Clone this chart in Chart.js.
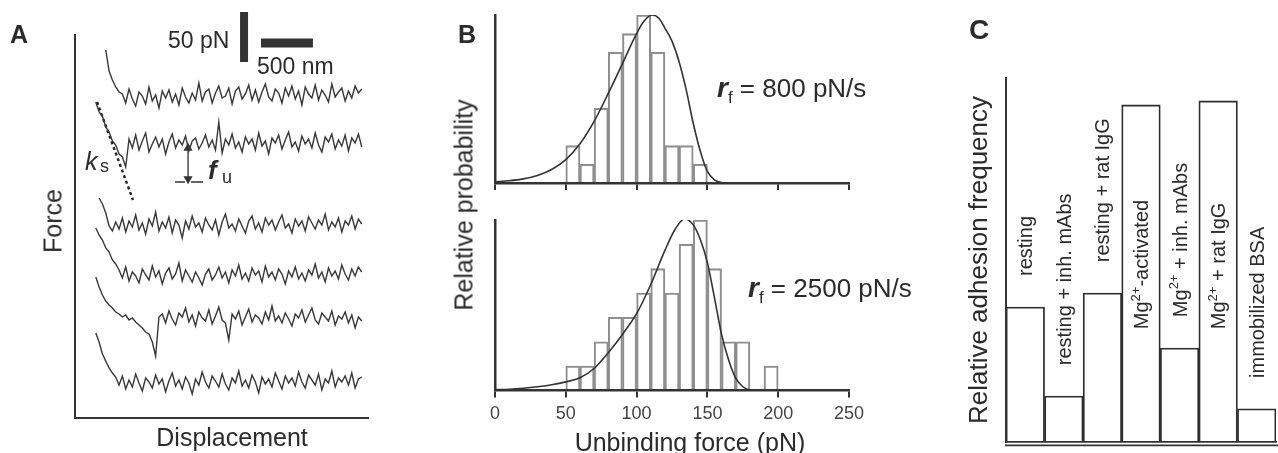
<!DOCTYPE html>
<html>
<head>
<meta charset="utf-8">
<script src="https://cdn.jsdelivr.net/npm/chart.js@4.4.0/dist/chart.umd.min.js"></script>
<style>
body { margin: 0; background: #fff; }
#fig { position: relative; width: 1278px; height: 453px; overflow: hidden; font-family: "Liberation Sans", Arial, Helvetica, sans-serif; color: #2b2b2b; }
canvas { position: absolute; }
.t { position: absolute; line-height: 1; white-space: nowrap; }
.rot { position: absolute; line-height: 1; white-space: nowrap; transform: translate(-50%, -50%) rotate(-90deg); }
</style>
</head>
<body>
<div id="fig">
  <canvas id="panel-a" width="380" height="453" style="left:0;top:0"></canvas>
  <canvas id="panel-b1" width="440" height="200" style="left:440px;top:0"></canvas>
  <canvas id="panel-b2" width="440" height="253" style="left:440px;top:200px"></canvas>
  <canvas id="panel-c" width="318" height="453" style="left:960px;top:0"></canvas>

  <!-- panel A text -->
  <div class="t" style="left:10px;top:22px;font-size:25px;font-weight:bold">A</div>
  <div class="t" style="left:168px;top:29px;font-size:23px">50 pN</div>
  <div class="t" style="left:257px;top:55px;font-size:23px">500 nm</div>
  <div class="t" style="left:85px;top:149px;font-size:25px;font-style:italic">k</div>
  <div class="t" style="left:100px;top:157px;font-size:18px">s</div>
  <div class="t" style="left:208px;top:157px;font-size:26px;font-style:italic;font-weight:bold">f</div>
  <div class="t" style="left:222px;top:168px;font-size:18px">u</div>
  <div class="rot" style="left:53px;top:221px;font-size:25px">Force</div>
  <div class="t" style="left:232px;top:425px;font-size:25px;transform:translateX(-50%)">Displacement</div>

  <!-- panel B text -->
  <div class="t" style="left:458px;top:22px;font-size:25px;font-weight:bold">B</div>
  <div class="rot" style="left:464px;top:205px;font-size:25px">Relative probability</div>
  <div class="t" style="left:717px;top:74px;font-size:26px"><b><i style="font-size:28px">r</i></b><span style="font-size:17px;position:relative;top:6px">f</span> = 800 pN/s</div>
  <div class="t" style="left:748px;top:274px;font-size:26px"><b><i style="font-size:28px">r</i></b><span style="font-size:17px;position:relative;top:6px">f</span> = 2500 pN/s</div>
  <div class="t" style="left:690px;top:430px;font-size:25px;transform:translateX(-50%)">Unbinding force (pN)</div>

  <!-- panel C text -->
  <div class="t" style="left:969px;top:16px;font-size:28px;font-weight:bold">C</div>
  <div class="rot" style="left:978px;top:260px;font-size:26px">Relative adhesion frequency</div>
</div>

<script>
// ---- panel A: force traces (pN), one sample every 32 nm starting at 200 nm ----
const traceStartNm = 200
const traceStepNm = 32
const trace1 = [null,null,null,368,347,338,331,326,
  324,315,329,319,312,326,322,314,331,317,323,310,327,320,328,316,324,313,330,321,315,325,318,
  335,317,326,329,315,325,332,320,322,330,314,327,331,319,324,333,318,328,316,326,
  334,321,317,329,325,315,330,322,332,319,327,313,331,324,320,333,318,328,323,316,
  334,321,326,330,317,327,320,332,325,329]
const trace2 = [316,306,302,291,286,277,273,264,261,251,279,
  270,283,268,277,285,266,274,281,271,279,264,276,284,270,278,273,282,267,277,280,
  269,275,283,271,278,268,296,265,279,
  273,284,270,276,266,281,274,279,268,285,272,277,264,280,275,283,269,278,286,271,
  276,267,282,274,279,270,285,273,266,281,276,284,269,278,272,283,267,280,275,284,271]
const trace3 = [null,220,214,205,192,187,196,
  189,200,186,197,191,203,188,195,184,199,192,206,187,196,190,201,185,198,193,180,
  197,189,202,191,195,186,200,193,188,198,183,196,204,190,194,187,199,192,185,197,
  202,189,195,186,200,193,198,188,196,203,190,194,185,199,192,197,187,201,195,189,
  198,193,204,188,196,191,200,186,197,193,202,189,199,194]
const trace4 = [190,183,178,170,166,158,154,148,
  140,151,137,146,142,135,149,143,138,152,141,147,134,145,150,139,144,155,137,148,
  142,136,146,140,133,144,149,138,143,151,140,146,135,148,142,153,139,145,137,150,
  143,147,136,152,141,146,138,149,144,134,147,141,151,139,145,137,148,143,154,140,
  146,136,150,142,147,139,153,144,138,149,142,151,146]
const trace5 = [141,131,123,117,113,110,106,104,101,103,98,100,96,93,90,86,84,76,62,101,
  104,95,107,99,93,105,101,110,96,103,92,106,100,97,108,94,102,111,98,95,
  78,104,99,107,93,101,109,96,103,100,94,106,98,112,97,102,95,105,99,92,
  104,100,108,96,103,110,98,94,105,101,97,107,93,102,99,106,95,103,90,101,97]
const trace6 = [85,76,64,57,50,45,41,
  33,42,29,38,31,44,35,27,40,36,30,43,34,39,26,37,45,32,38,29,
  41,35,24,39,33,46,36,30,42,37,31,44,34,28,40,35,47,32,38,30,
  43,36,25,41,34,39,31,45,37,29,42,35,40,32,46,36,30,43,38,33,
  44,28,39,35,47,31,40,36,42,33,45,30,39,41]
const ksLineNm = [212, 558]
const ksLinePn = [316, 218]
const scaleForcePn = 50
const scaleDispNm = 500

// ---- panel B: unbinding force histograms (10 pN bins) and fits ----
const binCenters800 = [55, 65, 75, 85, 95, 105, 115, 125, 135, 145]
const counts800 = [2, 1, 4, 7, 8, 9, 7, 2, 2, 1]
const fitForce800 = [0, 10, 20, 30, 40, 50, 60, 70, 80, 90, 100, 105, 111, 116, 120, 125, 130, 135, 140, 145, 150, 155, 160, 165, 250]
const fitProb800 = [0.06, 0.12, 0.22, 0.4, 0.72, 1.25, 2.1, 3.3, 4.8, 6.4, 8.0, 8.65, 9.0, 8.8, 8.3, 7.6, 6.5, 5.0, 3.2, 1.7, 0.62, 0.17, 0.03, 0, 0]

const binCenters2500 = [55, 65, 75, 85, 95, 105, 115, 125, 135, 145, 155, 165, 175, 185, 195]
const counts2500 = [1, 1, 2, 3, 3, 4, 5, 4, 6, 7, 5, 2, 2, 0, 1]
const fitForce2500 = [0, 10, 20, 30, 40, 50, 60, 70, 80, 90, 100, 110, 120, 127, 134, 140, 145, 150, 155, 160, 165, 170, 175, 180, 185, 250]
const fitProb2500 = [0.03, 0.05, 0.09, 0.15, 0.23, 0.35, 0.52, 0.9, 1.55, 2.3, 3.15, 4.35, 5.75, 6.6, 7.05, 6.8, 6.2, 5.25, 3.8, 2.3, 1.25, 0.5, 0.15, 0.02, 0, 0]
const forceTicks = [0, 50, 100, 150, 200, 250]

// ---- panel C: relative adhesion frequency ----
const conditions = ['resting', 'resting + inh. mAbs', 'resting + rat IgG', 'Mg2+-activated', 'Mg2+ + inh. mAbs', 'Mg2+ + rat IgG', 'immobilized BSA']
const adhesion = [0.371, 0.126, 0.409, 0.926, 0.258, 0.937, 0.091]

const FONT = '"Liberation Sans", Arial, Helvetica, sans-serif'
const INK = '#2b2b2b'
Chart.defaults.font.family = FONT
Chart.defaults.color = INK

function xy(xs, ys){
    return xs.map((x, i) => ({x: x, y: ys[i]}))
}

function hiddenAxis(min, max){
    // axis line only, no ticks or labels
    return {
        type: 'linear', min: min, max: max,
        ticks: {display: false},
        grid: {display: false, drawTicks: false},
        border: {display: true, color: '#333', width: 2, z: 1}
    }
}

// ================= panel A =================
function renderTraces(){
    let traces = [trace1, trace2, trace3, trace4, trace5, trace6]
    let datasets = traces.map(t => ({
        data: t.map((v, i) => ({x: traceStartNm + i * traceStepNm, y: v})),
        borderColor: '#383838',
        borderWidth: 1.4,
        pointRadius: 0,
        spanGaps: false
    }))

    // k_s dashed slope
    datasets.push({
        data: xy(ksLineNm, ksLinePn),
        borderColor: '#222', borderWidth: 2.4, borderDash: [3, 3], pointRadius: 0
    })

    // f_u double arrow and the two short ticks under it
    datasets.push({
        data: [{x: 1088, y: 270}, {x: 1088, y: 239}],
        borderColor: '#333', borderWidth: 1.3,
        pointStyle: 'triangle', pointRadius: 4,
        pointBackgroundColor: '#333', pointBorderColor: '#333',
        rotation: ctx => ctx.dataIndex ? 180 : 0
    })
    datasets.push({
        data: [{x: 962, y: 236}, {x: 1059, y: 236}, {x: 1088, y: null}, {x: 1116, y: 236}, {x: 1232, y: 236}],
        borderColor: '#333', borderWidth: 1.6, pointRadius: 0, spanGaps: false
    })

    // scale bars (drawn above the plot area)
    datasets.push({
        data: [{x: 1627, y: 356}, {x: 1627, y: 356 + scaleForcePn}],
        borderColor: '#333', borderWidth: 8, pointRadius: 0, clip: false, borderCapStyle: 'butt'
    })
    datasets.push({
        data: [{x: 1790, y: 375}, {x: 1790 + scaleDispNm, y: 375}],
        borderColor: '#333', borderWidth: 9, pointRadius: 0, clip: false, borderCapStyle: 'butt'
    })

    new Chart(document.getElementById('panel-a'), {
        type: 'line',
        data: {datasets: datasets},
        options: {
            responsive: false,
            animation: false,
            layout: {padding: {left: 75, top: 35, right: 12, bottom: 35}},
            scales: {
                x: hiddenAxis(0, 2820),
                y: hiddenAxis(0, 383)
            },
            plugins: {legend: {display: false}, tooltip: {enabled: false}}
        }
    })
}

// ================= panel B =================
function renderHistogram(canvasId, centers, counts, fitX, fitY, yMax, showLabels, padding){
    let xScale = {
        type: 'linear', min: 0, max: 250, offset: false,
        afterBuildTicks: s => { s.ticks = forceTicks.map(v => ({value: v})) },
        ticks: {display: showLabels, font: {size: 18}, color: '#444', padding: 6, maxRotation: 0},
        grid: {display: true, offset: false, drawOnChartArea: false, drawTicks: true, tickLength: 7, color: '#333', lineWidth: 2},
        border: {display: true, color: '#333', width: 2.5, z: 1}
    }
    let yScale = hiddenAxis(0, yMax)
    yScale.border.width = 2.5

    new Chart(document.getElementById(canvasId), {
        type: 'bar',
        data: {
            datasets: [{
                type: 'line',
                data: xy(fitX, fitY),
                borderColor: '#333', borderWidth: 1.6, pointRadius: 0,
                cubicInterpolationMode: 'monotone',
                order: 0
            }, {
                type: 'bar',
                data: xy(centers, counts),
                backgroundColor: 'rgba(255,255,255,0)',
                borderColor: '#8f8f8f', borderWidth: 1.4,
                borderSkipped: 'start',
                barPercentage: 1, categoryPercentage: 1,
                order: 1
            }]
        },
        options: {
            responsive: false,
            animation: false,
            layout: {padding: padding},
            scales: {x: xScale, y: yScale},
            plugins: {legend: {display: false}, tooltip: {enabled: false}}
        }
    })
}

// ================= panel C =================
function drawRich(ctx, text, size){
    // draws "Mg2+" with a raised, smaller "2+"
    let parts = text.split('2+')
    let pos = 0
    parts.forEach((p, k) => {
        if (k > 0){
            ctx.font = Math.round(size * 0.65) + 'px ' + FONT
            ctx.fillText('2+', pos, -size * 0.42)
            pos += ctx.measureText('2+').width
            ctx.font = size + 'px ' + FONT
        }
        ctx.fillText(p, pos, 0)
        pos += ctx.measureText(p).width
    })
}

const barLabels = {
    id: 'barLabels',
    afterDatasetsDraw(chart){
        let {ctx, scales: {x, y}} = chart
        let size = 20
        ctx.save()
        ctx.fillStyle = INK
        ctx.font = size + 'px ' + FONT
        conditions.forEach((name, i) => {
            let v = adhesion[i]
            // short bars get the label above them, tall bars inside
            let start = v < 0.6 ? v + 0.085 : 0.31
            ctx.save()
            ctx.translate(x.getPixelForValue(i) + 7, y.getPixelForValue(start))
            ctx.rotate(-Math.PI / 2)
            drawRich(ctx, name, size)
            ctx.restore()
        })
        ctx.restore()
    }
}

const doubleBase = {
    id: 'doubleBase',
    afterDraw(chart){
        let {ctx, chartArea} = chart
        ctx.save()
        ctx.strokeStyle = '#333'
        ctx.lineWidth = 1.8
        ctx.beginPath()
        ctx.moveTo(chartArea.left - 1, chartArea.bottom + 3.3)
        ctx.lineTo(chart.width, chartArea.bottom + 3.3)
        ctx.stroke()
        ctx.restore()
    }
}

function renderAdhesion(){
    new Chart(document.getElementById('panel-c'), {
        type: 'bar',
        data: {
            labels: conditions,
            datasets: [{
                data: adhesion,
                backgroundColor: '#fff',
                borderColor: '#2e2e2e', borderWidth: 1.8,
                borderSkipped: 'start',
                barPercentage: 1, categoryPercentage: 1
            }]
        },
        options: {
            responsive: false,
            animation: false,
            layout: {padding: {left: 46, right: 2, top: 78, bottom: 11}},
            scales: {
                x: {
                    ticks: {display: false},
                    grid: {display: false, drawTicks: false},
                    border: {display: true, color: '#333', width: 1.8, z: 1}
                },
                y: hiddenAxis(0, 1)
            },
            plugins: {legend: {display: false}, tooltip: {enabled: false}}
        },
        plugins: [barLabels, doubleBase]
    })
}

renderTraces()
renderHistogram('panel-b1', binCenters800, counts800, fitForce800, fitProb800, 9, false, {left: 55, right: 31, top: 15, bottom: 10})
renderHistogram('panel-b2', binCenters2500, counts2500, fitForce2500, fitProb2500, 7, true, {left: 55, right: 31, top: 20, bottom: 22})
renderAdhesion()
</script>
</body>
</html>
